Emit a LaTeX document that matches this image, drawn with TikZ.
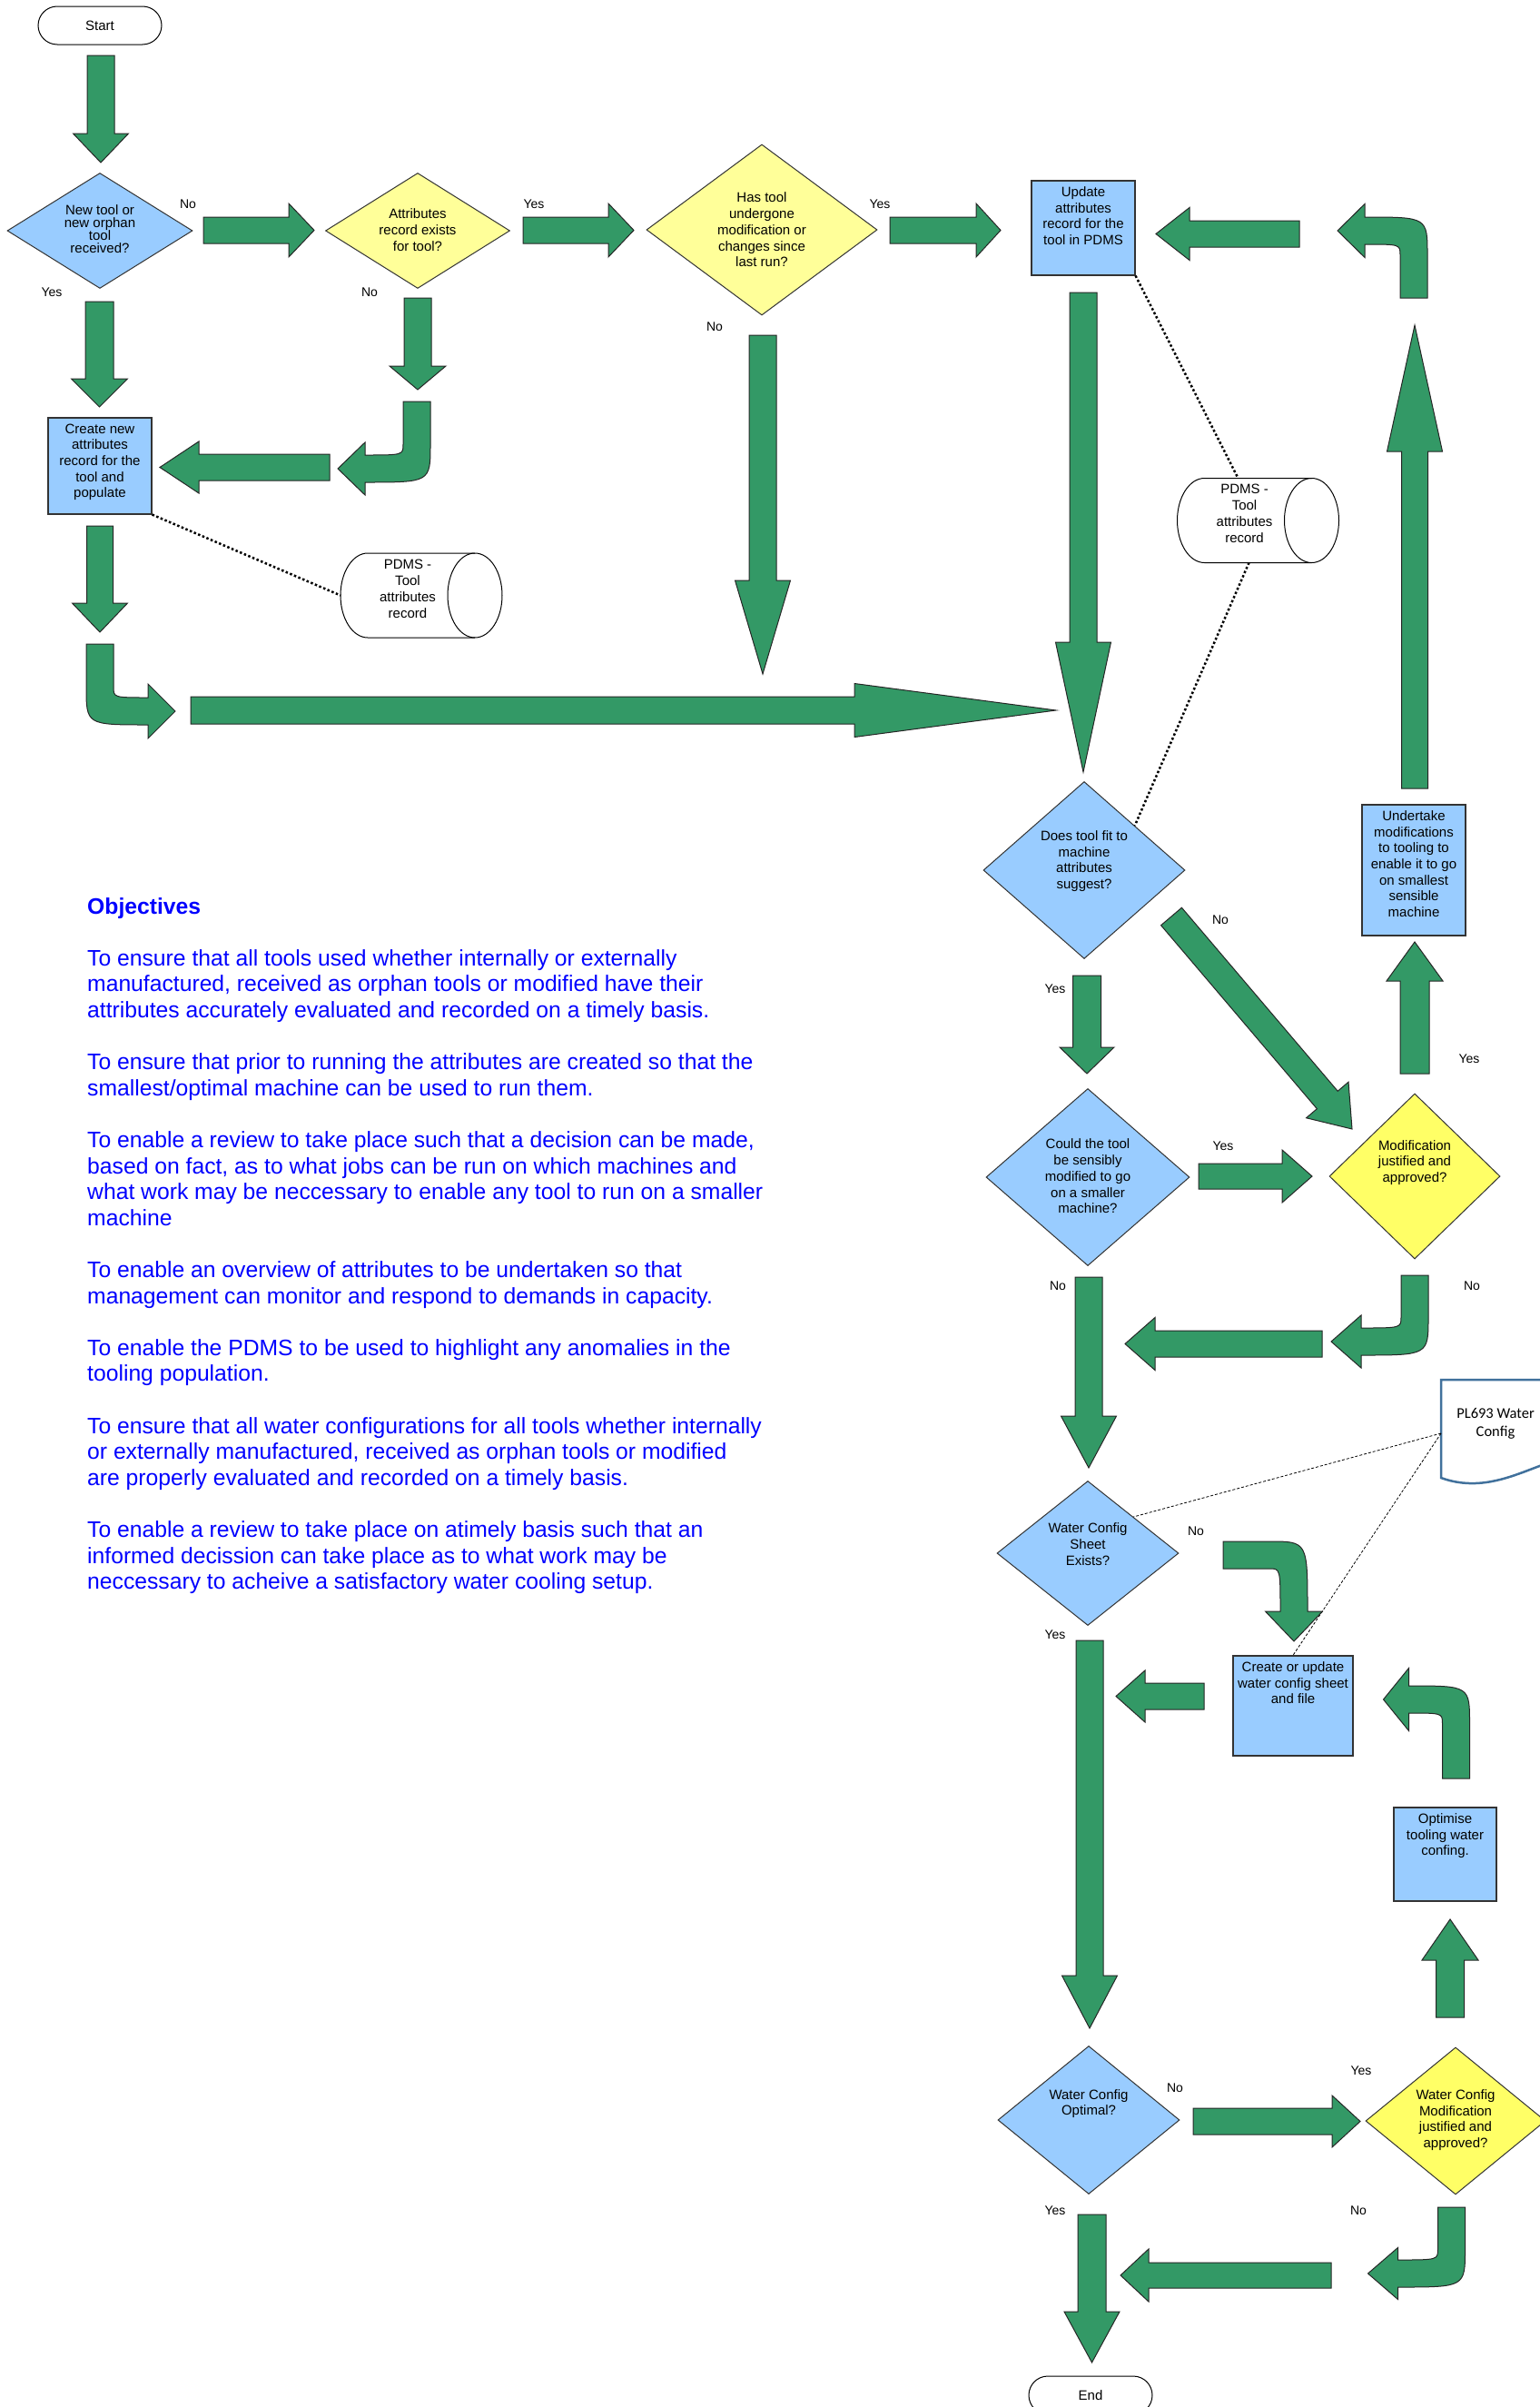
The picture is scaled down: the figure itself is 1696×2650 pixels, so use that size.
\documentclass[tikz,border=0pt]{standalone}
\usepackage{fontspec}
\setmainfont{Liberation Sans}
\newfontfamily\sheetfont{Carlito}
\usepackage{tikz}
\usetikzlibrary{shapes.geometric, calc}

\definecolor{flowgreen}{HTML}{339966}
\definecolor{boxblue}{HTML}{99CCFF}
\definecolor{paleyellow}{HTML}{FFFF99}
\definecolor{brightyellow}{HTML}{FFFF66}
\definecolor{objblue}{HTML}{0000FF}
\definecolor{sheetblue}{HTML}{41719C}

\tikzset{
  blockarrow/.style={fill=flowgreen, draw=black!85, line width=1pt, line join=miter},
  decision/.style={diamond, draw=black!80, line width=1pt, inner sep=0pt},
  procbox/.style={rectangle, draw=black!80, line width=1.2pt, fill=boxblue},
  terminal/.style={rectangle, rounded corners=21pt, draw=black, line width=1pt,
    minimum width=136pt, minimum height=42pt, font=\fontsize{15}{18}\selectfont},
  dbarea/.style={rectangle, inner sep=0pt, outer sep=0pt, minimum width=178pt, minimum height=93pt},
  dbline/.style={draw=black, line width=1pt, fill=white},
  shapetext/.style={align=center, inner sep=0pt, font=\fontsize{15}{17.7}\selectfont},
  boxtext/.style={shapetext, anchor=north},
  answer/.style={inner sep=0pt, font=\fontsize{14}{16}\selectfont},
  recordlink/.style={line width=2.5pt, dash pattern=on 2.5pt off 2.5pt},
  sheetlink/.style={line width=0.8pt, dash pattern=on 3pt off 2pt},
  docsheet/.style={draw=sheetblue, line width=2.5pt, fill=white},
  objectives/.style={anchor=north west, align=left, inner sep=0pt, text=objblue,
    font=\fontsize{24.7}{28.6}\selectfont},
}

% straight block arrow: tail, tip, shaft half width, head half width, head length
\newcommand{\flowarrow}[5]{%
  \coordinate (fa-base) at ($(#2)!#5pt!(#1)$);
  \draw[blockarrow] ($(#1)!#3pt!90:(#2)$) -- ($(fa-base)!#3pt!90:(#2)$)
    -- ($(fa-base)!#4pt!90:(#2)$) -- (#2) -- ($(fa-base)!#4pt!-90:(#2)$)
    -- ($(fa-base)!#3pt!-90:(#2)$) -- ($(#1)!#3pt!-90:(#2)$) -- cycle;}

% bent block arrow: tail, tail direction, turn direction, run to bend, head base, head length, head half width
\newcommand{\bendarrow}[7]{%
  \begin{scope}[shift={(#1)}, x={#2}, y={#3}]
    \draw[blockarrow] (0,15) -- ({#4-27},15) .. controls ({#4-15},15) .. ({#4-15},#5)
      -- ({#4-#7},#5) -- (#4,{#5+#6}) -- ({#4+#7},#5) -- ({#4+15},#5)
      .. controls ({#4+15},-15) .. ({#4-27},-15) -- (0,-15) -- cycle;
  \end{scope}}

% record store (lying cylinder): name, centre x, centre y
\newcommand{\recordstore}[3]{%
  \node[dbarea] (#1) at (#2,#3) {};
  \draw[dbline] ({#2-59},{#3-46.5}) -- ({#2+59},{#3-46.5})
    .. controls ({#2+75.6},{#3-46.5}) and ({#2+89},{#3-25.7}) .. ({#2+89},#3)
    .. controls ({#2+89},{#3+25.7}) and ({#2+75.6},{#3+46.5}) .. ({#2+59},{#3+46.5})
    -- ({#2-59},{#3+46.5})
    .. controls ({#2-75.6},{#3+46.5}) and ({#2-89},{#3+25.7}) .. ({#2-89},#3)
    .. controls ({#2-89},{#3-25.7}) and ({#2-75.6},{#3-46.5}) .. cycle;
  \draw[dbline, fill=none] ({#2+59},{#3-46.5})
    .. controls ({#2+42.4},{#3-46.5}) and ({#2+29},{#3-25.7}) .. ({#2+29},#3)
    .. controls ({#2+29},{#3+25.7}) and ({#2+42.4},{#3+46.5}) .. ({#2+59},{#3+46.5});
  \node[shapetext, font=\fontsize{15}{18}\selectfont] (#1-t) at ({#2-15},{#3-7.5}) {PDMS -\\Tool\\attributes\\record};}

\begin{document}
\begin{tikzpicture}[x=1pt, y=-1pt]
  \useasboundingbox (0,0) rectangle (1696,2650);

  % Where the sheet links leave the config sheet
  \coordinate (doc-in) at (1587,1578);

  % Start, first decisions
  \node[terminal] (start) at (110,28) {Start};
  \node[decision, fill=boxblue, minimum width=204pt, minimum height=127pt] (newtool) at (110,254) {};
  \node[shapetext, font=\fontsize{15}{14}\selectfont] (newtool-t) at (110,252) {New tool or\\new orphan\\tool\\received?};
  \node[decision, fill=paleyellow, minimum width=203pt, minimum height=127pt] (exists) at (460,254) {};
  \node[shapetext] (exists-t) at (460,253) {Attributes\\record exists\\for tool?};
  \node[decision, fill=paleyellow, minimum width=254pt, minimum height=188pt] (modified) at (839,253) {};
  \node[shapetext] (modified-t) at (839,253) {Has tool\\undergone\\modification or\\changes since\\last run?};

  % Attribute records
  \node[procbox, minimum width=114pt, minimum height=104pt] (update) at (1193,251) {};
  \node[boxtext] (update-t) at ($(update.north)+(0,7)$) {Update\\attributes\\record for the\\tool in PDMS};
  \node[procbox, minimum width=114pt, minimum height=106pt] (create) at (110,513) {};
  \node[boxtext] (create-t) at ($(create.north)+(0,7)$) {Create new\\attributes\\record for the\\tool and\\populate};
  \recordstore{db1}{464}{655.5}
  \recordstore{db2}{1385.5}{573}

  % Machine fit
  \node[decision, fill=boxblue, minimum width=222pt, minimum height=195pt] (fit) at (1194,958) {};
  \node[shapetext] (fit-t) at (1194,948) {Does tool fit to\\machine\\attributes\\suggest?};
  \node[procbox, minimum width=114pt, minimum height=144pt] (undertake) at (1557,958) {};
  \node[boxtext] (undertake-t) at ($(undertake.north)+(0,7)$) {Undertake\\modifications\\to tooling to\\enable it to go\\on smallest\\sensible\\machine};
  \node[decision, fill=boxblue, minimum width=224pt, minimum height=195pt] (smaller) at (1198,1296) {};
  \node[shapetext] (smaller-t) at (1198,1295) {Could the tool\\be sensibly\\modified to go\\on a smaller\\machine?};
  \node[decision, fill=brightyellow, minimum width=188pt, minimum height=182pt] (approved) at (1558,1295) {};
  \node[shapetext] (approved-t) at (1558,1280) {Modification\\justified and\\approved?};

  % Water config
  \node[decision, fill=boxblue, minimum width=200pt, minimum height=159pt] (sheet) at (1198,1710) {};
  \node[shapetext] (sheet-t) at (1198,1700) {Water Config\\Sheet\\Exists?};
  \draw[docsheet] (1587,1519) -- (1740,1519) -- (1740,1605)
    .. controls (1700,1600) and (1650,1650) .. (1587,1627) -- cycle;
  \node[shapetext, font=\sheetfont\fontsize{16.5}{20}\selectfont] (doc) at (1647,1567) {PL693 Water\\Config};
  \node[procbox, minimum width=132pt, minimum height=110pt] (cu) at (1424,1878) {};
  \node[boxtext] (cu-t) at ($(cu.north)+(0,7)$) {Create or update\\water config sheet\\and file};
  \node[procbox, minimum width=113pt, minimum height=103pt] (optimise) at (1591.5,2041.5) {};
  \node[boxtext] (optimise-t) at ($(optimise.north)+(0,7)$) {Optimise\\tooling water\\confing.};
  \node[decision, fill=boxblue, minimum width=200pt, minimum height=163pt] (optimal) at (1199,2334) {};
  \node[shapetext] (optimal-t) at (1199,2316) {Water Config\\Optimal?};
  \node[decision, fill=brightyellow, minimum width=198pt, minimum height=162pt] (wapproved) at (1603,2335) {};
  \node[shapetext] (wapproved-t) at (1603,2334) {Water Config\\Modification\\justified and\\approved?};
  \node[terminal] (end) at (1201,2637) {End};

  % Record links
  \draw[recordlink] (create.south east) -- (db1.west);
  \draw[recordlink] (update.south east) -- ($(db2.north)+(-22,0)$);
  \draw[recordlink] ($(db2.south)+(-10,0)$) -- (fit.north east);
  \draw[sheetlink] (doc-in) -- (sheet.north east);
  \draw[sheetlink] (doc-in) -- (cu.north);

  % Straight block arrows
  \flowarrow{111,61}{111,179}{15}{30.5}{32}
  \flowarrow{224,253.5}{346,253.5}{14.5}{29.5}{28}
  \flowarrow{576,253.5}{698,253.5}{14.5}{29.5}{28}
  \flowarrow{980,253.5}{1102,253.5}{14.5}{29.5}{27}
  \flowarrow{1431,257.5}{1273,257.5}{14.5}{29}{37}
  \flowarrow{109.5,332}{109.5,448}{15.5}{31}{31}
  \flowarrow{460,328}{460,429}{15}{31}{26}
  \flowarrow{363,514.5}{176,514.5}{14.5}{28.5}{43}
  \flowarrow{110,579}{110,696}{14.5}{30.5}{32}
  \flowarrow{210,782}{1163,782}{15}{29.5}{222}
  \flowarrow{840,369}{840,742}{15}{30.5}{103}
  \flowarrow{1193,322}{1193,850}{15}{30.5}{143}
  \flowarrow{1558,868}{1558,358}{14.5}{30.5}{139}
  \flowarrow{1290,1009}{1489,1243}{15}{30.5}{42}
  \flowarrow{1558,1182}{1558,1037}{16}{31}{43}
  \flowarrow{1197,1074}{1197,1182}{15.5}{30}{29}
  \flowarrow{1320,1295}{1445,1295}{14}{29}{33}
  \flowarrow{1456,1479.5}{1239,1479.5}{14.5}{29}{33}
  \flowarrow{1199,1406}{1199,1616}{15}{30.5}{57}
  \flowarrow{1326,1867.5}{1229,1867.5}{14.5}{28.5}{32}
  \flowarrow{1597,2221}{1597,2113}{15.5}{31}{45}
  \flowarrow{1200,1806}{1200,2233}{15}{30.5}{58}
  \flowarrow{1314,2335.5}{1498,2335.5}{14.5}{28.5}{31}
  \flowarrow{1466,2505}{1234,2505}{14}{29}{31}
  \flowarrow{1202.5,2438}{1202.5,2601}{15.5}{30.5}{56}

  % Bent block arrows
  \bendarrow{459,442}{(0pt,-1pt)}{(-1pt,0pt)}{74}{57}{30}{29}
  \bendarrow{110,709}{(0pt,-1pt)}{(1pt,0pt)}{74}{53}{30}{30}
  \bendarrow{1557,328}{(0pt,1pt)}{(-1pt,0pt)}{74}{54}{30}{29.5}
  \bendarrow{1558,1404}{(0pt,-1pt)}{(-1pt,0pt)}{73}{59}{33}{29}
  \bendarrow{1347,1712}{(1pt,0pt)}{(0pt,-1pt)}{78}{62}{33}{31.5}
  \bendarrow{1603.5,1958}{(0pt,1pt)}{(-1pt,0pt)}{87}{52}{28}{34.5}
  \bendarrow{1598.5,2430}{(0pt,-1pt)}{(-1pt,0pt)}{73}{59}{33}{28.5}

  % Yes / No labels
  \node[answer] (a1) at (207,225) {No};
  \node[answer] (a2) at (57,322) {Yes};
  \node[answer] (a3) at (588,225) {Yes};
  \node[answer] (a4) at (407,322) {No};
  \node[answer] (a5) at (969,225) {Yes};
  \node[answer] (a6) at (787,360) {No};
  \node[answer] (a7) at (1344,1013) {No};
  \node[answer] (a8) at (1162,1089) {Yes};
  \node[answer] (a9) at (1618,1166) {Yes};
  \node[answer] (a10) at (1347,1262) {Yes};
  \node[answer] (a11) at (1165,1416) {No};
  \node[answer] (a12) at (1621,1416) {No};
  \node[answer] (a13) at (1317,1686) {No};
  \node[answer] (a14) at (1162,1800) {Yes};
  \node[answer] (a15) at (1294,2299) {No};
  \node[answer] (a16) at (1499,2280) {Yes};
  \node[answer] (a17) at (1162,2434) {Yes};
  \node[answer] (a18) at (1496,2434) {No};

  % Objectives
  \node[objectives] (obj) at (96,988) {\textbf{Objectives}\\[28.6pt]
    To ensure that all tools used whether internally or externally\\
    manufactured, received as orphan tools or modified have their\\
    attributes accurately evaluated and recorded on a timely basis.\\[28.6pt]
    To ensure that prior to running the attributes are created so that the\\
    smallest/optimal machine can be used to run them.\\[28.6pt]
    To enable a review to take place such that a decision can be made,\\
    based on fact, as to what jobs can be run on which machines and\\
    what work may be neccessary to enable any tool to run on a smaller\\
    machine\\[28.6pt]
    To enable an overview of attributes to be undertaken so that\\
    management can monitor and respond to demands in capacity.\\[28.6pt]
    To enable the PDMS to be used to highlight any anomalies in the\\
    tooling population.\\[28.6pt]
    To ensure that all water configurations for all tools whether internally\\
    or externally manufactured, received as orphan tools or modified\\
    are properly evaluated and recorded on a timely basis.\\[28.6pt]
    To enable a review to take place on atimely basis such that an\\
    informed decission can take place as to what work may be\\
    neccessary to acheive a satisfactory water cooling setup.};
\end{tikzpicture}
\end{document}
